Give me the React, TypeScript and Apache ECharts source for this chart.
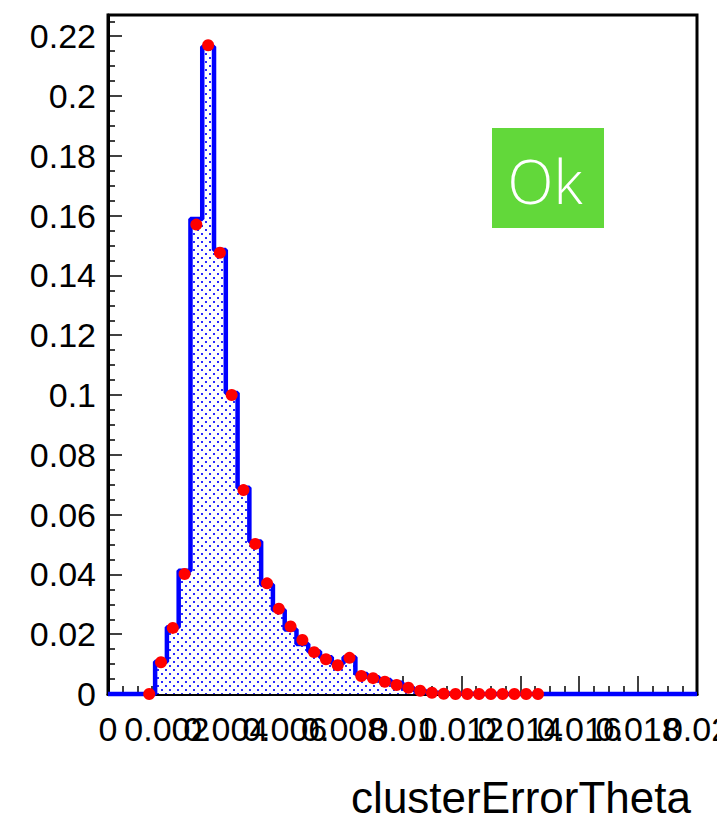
import React, { useEffect, useRef } from "react";
import * as echarts from "echarts";

// ---- data ----
const BIN_WIDTH = 0.0004;
const X_MIN = 0;
const X_MAX = 0.02;
const Y_MIN = 0;
const Y_MAX = 0.2271;
const X_TICK_STEP = 0.002;
const Y_TICK_STEP = 0.02;

// blue histogram: content of each of the 50 bins from 0 to 0.02
const histValues = [
  0, 0, 0, 0, 0.0108, 0.0223, 0.0412, 0.1589, 0.2165, 0.1485,
  0.1007, 0.069, 0.051, 0.0365, 0.0281, 0.0216, 0.0167, 0.0142, 0.0123, 0.0103,
  0.0123, 0.0067, 0.0056, 0.0047, 0.0038, 0.0019, 0.001, 0.0004, 0.0002, 0.0001,
  0.0001, 0, 0, 0, 0, 0, 0, 0, 0, 0,
  0, 0, 0, 0, 0, 0, 0, 0, 0, 0,
];

// red reference points: first bin index and values
const refFirstBin = 3;
const refValues = [
  0, 0.0106, 0.0221, 0.0401, 0.157, 0.217, 0.1476, 0.1, 0.0682, 0.0502,
  0.037, 0.0285, 0.0226, 0.0181, 0.014, 0.0116, 0.0096, 0.0121, 0.006, 0.0053,
  0.0041, 0.003, 0.0021, 0.0011, 0.0004, 0.0001, 0, 0, 0, 0,
  0, 0, 0, 0,
];

const xTitle = "clusterErrorTheta";
const statusText = "Ok";

const fmt = (v: number) => String(parseFloat(v.toFixed(4)));

export default function App() {
  const ref = useRef<HTMLDivElement>(null);

  useEffect(() => {
    if (!ref.current) return;
    const chart = echarts.init(ref.current, undefined, { renderer: "svg" });

    const T = 8;
    const tile = document.createElement("canvas");
    tile.width = T;
    tile.height = T;
    const ctx = tile.getContext("2d")!;
    ctx.fillStyle = "#ffffff";
    ctx.fillRect(0, 0, T, T);
    ctx.fillStyle = "#2a2aff";
    ctx.fillRect(1, 1, 2, 2);
    ctx.fillRect(5, 5, 2, 2);

    const histData: number[][] = histValues.map((v, i) => [i * BIN_WIDTH, v]);
    histData.push([X_MAX, 0]);
    const refData = refValues.map((v, i) => [(refFirstBin + i + 0.5) * BIN_WIDTH, v]);

    const font = "Liberation Sans";
    const labelBase = {
      margin: 18,
      fontSize: 34,
      fontFamily: font,
      color: "#000",
      hideOverlap: false,
    };

    chart.setOption({
      animation: false,
      backgroundColor: "#ffffff",
      grid: {
        left: 108,
        right: 20,
        top: 15,
        bottom: 121,
        show: true,
        borderColor: "#000000",
        borderWidth: 3,
        backgroundColor: "transparent",
        containLabel: false,
        outerBoundsMode: "none",
      },
      xAxis: [
        {
          type: "value",
          position: "bottom",
          min: X_MIN,
          max: X_MAX,
          interval: X_TICK_STEP,
          splitLine: { show: false },
          axisLine: { show: true, lineStyle: { color: "#000", width: 3 } },
          axisTick: { show: true, inside: true, length: 18, lineStyle: { color: "#000", width: 1.5 } },
          minorTick: { show: true, splitNumber: 4, length: 8, lineStyle: { color: "#000", width: 1.5 } },
          axisLabel: {
            ...labelBase,
            showMinLabel: true,
            showMaxLabel: false,
            formatter: (v: number) => fmt(v),
          },
        },
        {
          type: "value",
          position: "bottom",
          min: X_MIN,
          max: X_MAX,
          interval: X_TICK_STEP,
          splitLine: { show: false },
          axisLine: { show: false },
          axisTick: { show: false },
          minorTick: { show: false },
          axisLabel: {
            ...labelBase,
            showMinLabel: false,
            showMaxLabel: true,
            formatter: (v: number) => (v > X_MAX - X_TICK_STEP / 2 ? fmt(v) : ""),
          },
        },
      ],
      yAxis: {
        type: "value",
        min: Y_MIN,
        max: Y_MAX,
        interval: Y_TICK_STEP,
        splitLine: { show: false },
        axisLine: { show: true, lineStyle: { color: "#000", width: 3 } },
        axisTick: { show: true, inside: true, length: 14, lineStyle: { color: "#000", width: 1.5 } },
        minorTick: { show: true, splitNumber: 4, length: 7, lineStyle: { color: "#000", width: 1.5 } },
        axisLabel: {
          margin: 12,
          fontSize: 34,
          fontFamily: font,
          color: "#000",
          showMaxLabel: false,
          formatter: (v: number) => (v > 0.2201 ? "" : fmt(v)),
        },
      },
      series: [
        {
          type: "line",
          xAxisIndex: 0,
          data: histData,
          step: "end",
          symbol: "none",
          clip: false,
          z: 3,
          lineStyle: { color: "#0000ff", width: 4.5 },
          areaStyle: {
            color: { image: tile, repeat: "repeat", imageWidth: T, imageHeight: T } as any,
            opacity: 1,
          },
        },
        {
          type: "scatter",
          xAxisIndex: 0,
          data: refData,
          symbol: "circle",
          symbolSize: 12,
          clip: false,
          z: 5,
          itemStyle: { color: "#ff0000", opacity: 1 },
        },
      ],
      graphic: [
        {
          type: "text",
          x: 691,
          y: 797,
          style: {
            text: xTitle,
            fontSize: 44,
            fontFamily: font,
            fill: "#000",
            textAlign: "right",
            textVerticalAlign: "middle",
          },
        },
        {
          type: "rect",
          shape: { x: 492, y: 128, width: 112, height: 100 },
          style: { fill: "#62d83a" },
        },
        {
          type: "text",
          x: 545,
          y: 181,
          style: {
            text: statusText,
            fontSize: 60,
            fontFamily: "Open Sans",
            fontWeight: 300,
            fill: "#ffffff",
            textAlign: "center",
            textVerticalAlign: "middle",
          },
        },
      ],
    });

    return () => chart.dispose();
  }, []);

  return (
    <div
      ref={ref}
      style={{ position: "fixed", left: 0, top: 0, width: 717, height: 815, background: "#fff" }}
    />
  );
}
